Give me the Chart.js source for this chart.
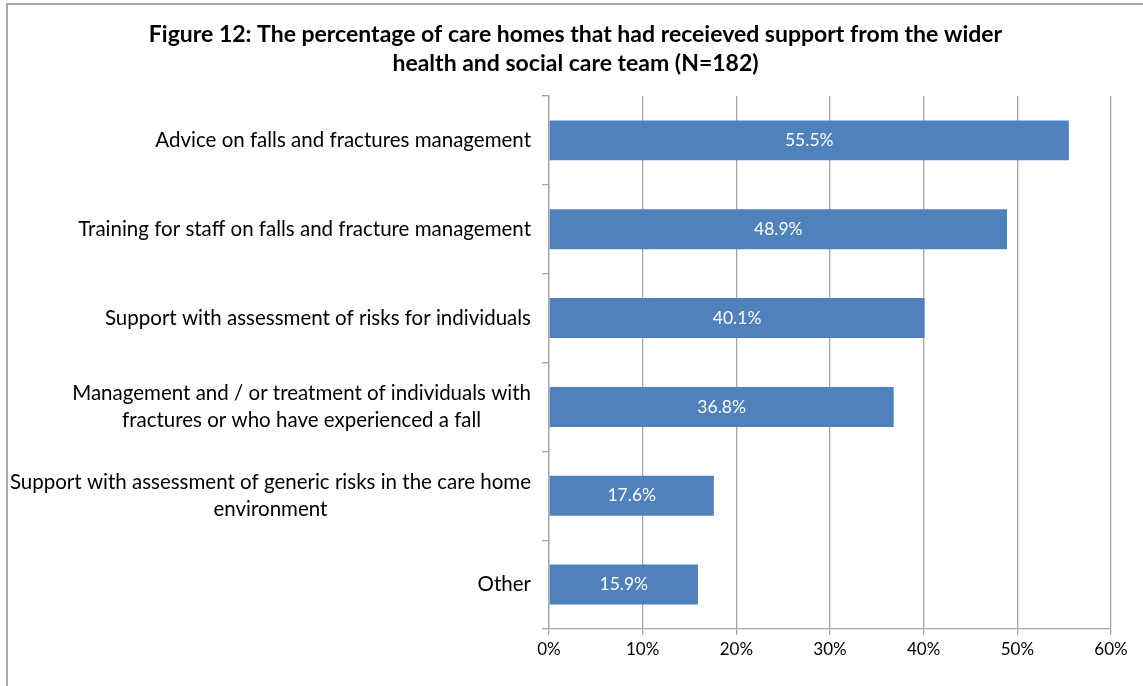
<!DOCTYPE html>
<html lang="en">
<head>
    <meta charset="UTF-8">
    <title>Figure 12 - Support from wider health and social care team</title>
    <script src="https://cdnjs.cloudflare.com/ajax/libs/Chart.js/4.4.1/chart.umd.min.js"></script>
    <style>
        body { margin: 0; background: #fff; overflow: hidden; }
        #wrap { position: relative; width: 1143px; height: 686px; }
        #frame { position: absolute; left: 6px; top: 3px; width: 1160px; height: 700px;
                 border-left: 2px solid #a9a9a9; border-top: 2px solid #a9a9a9; pointer-events: none; }
    </style>
</head>
<body>
<div id="wrap">
    <canvas id="chart" width="1143" height="686"></canvas>
    <div id="frame"></div>
</div>
<script>
    // data
    const categories = [
        'Advice on falls and fractures management',
        'Training for staff on falls and fracture management',
        'Support with assessment of risks for individuals',
        ['Management and / or treatment of individuals with', 'fractures or who have experienced a fall'],
        ['Support with assessment of generic risks in the care home', 'environment'],
        'Other'
    ];
    const percentages = [55.5, 48.9, 40.1, 36.8, 17.6, 15.9];
    const xTicks = [0, 10, 20, 30, 40, 50, 60];

    const titleLines = [
        'Figure 12: The percentage of care homes that had receieved support from the wider',
        'health and social care team (N=182)'
    ];

    const FONT = 'Lato, "Open Sans", sans-serif';
    const GRID = '#a6a6a6';

    // category labels: block right-aligned to the axis, lines centred inside the block
    const categoryLabels = {
        id: 'categoryLabels',
        afterDraw(chart) {
            const ctx = chart.ctx;
            const y = chart.scales.y;
            const rightEdge = y.right - 18;
            ctx.save();
            ctx.font = '20.5px ' + FONT;
            ctx.fillStyle = '#000';
            ctx.textAlign = 'center';
            ctx.textBaseline = 'middle';
            chart.data.labels.forEach((lab, i) => {
                const lines = Array.isArray(lab) ? lab : [lab];
                const w = Math.max(...lines.map(l => ctx.measureText(l).width));
                const cx = rightEdge - w / 2;
                const cy = y.getPixelForValue(i);
                const lh = 27;
                lines.forEach((l, k) => {
                    ctx.fillText(l, cx, cy + (k - (lines.length - 1) / 2) * lh);
                });
            });
            ctx.restore();
        }
    };

    // value labels inside the bars
    const valueLabels = {
        id: 'valueLabels',
        afterDatasetsDraw(chart) {
            const ctx = chart.ctx;
            const meta = chart.getDatasetMeta(0);
            ctx.save();
            ctx.font = '17.5px ' + FONT;
            ctx.fillStyle = '#fff';
            ctx.textAlign = 'center';
            ctx.textBaseline = 'middle';
            meta.data.forEach((bar, i) => {
                const v = chart.data.datasets[0].data[i];
                ctx.fillText(v.toFixed(1) + '%', (bar.x + bar.base) / 2, bar.y);
            });
            ctx.restore();
        }
    };

    new Chart(document.getElementById('chart'), {
        type: 'bar',
        data: {
            labels: categories,
            datasets: [{
                data: percentages,
                backgroundColor: '#4f81bd',
                borderWidth: 0,
                barPercentage: 0.45,
                categoryPercentage: 1.0
            }]
        },
        options: {
            indexAxis: 'y',
            responsive: false,
            animation: false,
            layout: { padding: { top: 0, right: 32, bottom: 17, left: 40 } },
            plugins: {
                legend: { display: false },
                tooltip: { enabled: false },
                title: {
                    display: true,
                    text: titleLines,
                    color: '#000',
                    font: { family: FONT, size: 23, weight: 'bold', lineHeight: 1.26 },
                    padding: { top: 20, bottom: 18 }
                }
            },
            scales: {
                x: {
                    min: 0,
                    max: 60,
                    afterBuildTicks(scale) {
                        scale.ticks = xTicks.map(v => ({ value: v }));
                    },
                    afterFit(scale) { scale.height = 40; },
                    grid: { color: GRID, tickLength: 6, lineWidth: 1.3 },
                    border: { color: GRID, width: 1.3 },
                    ticks: {
                        color: '#000',
                        font: { family: FONT, size: 17 },
                        padding: 4,
                        callback: v => v + '%'
                    }
                },
                y: {
                    afterFit(scale) { scale.width = 509; },
                    grid: { offset: true, drawOnChartArea: false, color: GRID, tickLength: 7, lineWidth: 1.3 },
                    border: { color: GRID, width: 1.3 },
                    ticks: { display: false }
                }
            }
        },
        plugins: [categoryLabels, valueLabels]
    });
</script>
</body>
</html>
